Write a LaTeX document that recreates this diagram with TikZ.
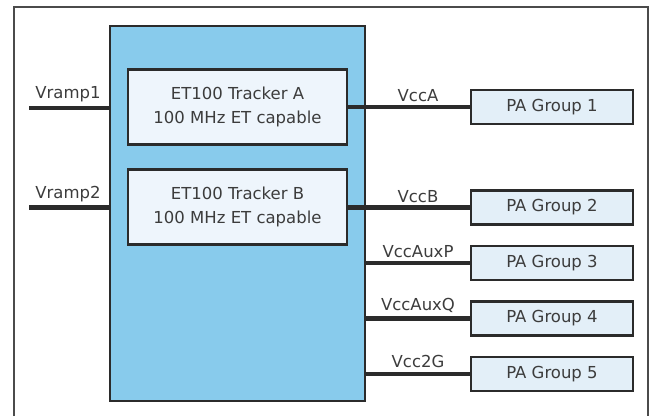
\documentclass[tikz,border=0pt]{standalone}
\usepackage{fontspec}
\setmainfont{DejaVu Sans}
\definecolor{chipblue}{HTML}{88CBEC}
\definecolor{trfill}{HTML}{EEF5FC}
\definecolor{pafill}{HTML}{E3EFF8}
\definecolor{ink}{HTML}{2B2B2B}
\definecolor{txt}{HTML}{3C3C3C}
\begin{document}
\begin{tikzpicture}[x=1pt,y=-1pt,
  every node/.style={font=\fontsize{16.5}{24}\selectfont, text=txt},
  chipbox/.style={draw=ink, line width=2.5pt, fill=chipblue, minimum width=255pt, minimum height=375pt, inner sep=0pt},
  trbox/.style={draw=ink, line width=2.5pt, fill=trfill, minimum width=219pt, minimum height=75pt, align=center, inner sep=0pt},
  pabox/.style={draw=ink, line width=2.5pt, fill=pafill, minimum width=162pt, minimum height=34pt, inner sep=0pt},
  wire/.style={draw=ink, line width=4.5pt},
  lbl/.style={anchor=south, inner sep=1.5pt}
]
\useasboundingbox (0,0) rectangle (650,416);
% outer frame (open at bottom)
\draw[ink!85, line width=2pt] (14,416) -- (14,7) -- (648,7) -- (648,416);

\node[chipbox] (chip) at (237.5,213.5) {};
\node[trbox] (trA) at (237.5,107) {ET100 Tracker A\\100 MHz ET capable};
\node[trbox] (trB) at (237.5,207) {ET100 Tracker B\\100 MHz ET capable};

\node[pabox] (pa1) at (552,107) {PA Group 1};
\node[pabox] (pa2) at (552,207.5) {PA Group 2};
\node[pabox] (pa3) at (552,263) {PA Group 3};
\node[pabox] (pa4) at (552,318.5) {PA Group 4};
\node[pabox] (pa5) at (552,374) {PA Group 5};

\coordinate (v1) at (29,108);
\coordinate (v2) at (29,207.5);

\draw[wire] (v1) -- (v1 -| chip.west);
\draw[wire] (v2) -- (v2 -| chip.west);
\draw[wire] (trA.east |- pa1.west) -- (pa1.west);
\draw[wire] (trB.east |- pa2.west) -- (pa2.west);
\draw[wire] (chip.east |- pa3.west) -- (pa3.west);
\draw[wire] (chip.east |- pa4.west) -- (pa4.west);
\draw[wire] (chip.east |- pa5.west) -- (pa5.west);

\node[lbl] (l1) at (68,104) {Vramp1};
\node[lbl] (l2) at (68,204) {Vramp2};
\node[lbl] (l3) at (418,103) {VccA};
\node[lbl] (l4) at (418,204) {VccB};
\node[lbl] (l5) at (418,259) {VccAuxP};
\node[lbl] (l6) at (418,314) {VccAuxQ};
\node[lbl] (l7) at (418,369) {Vcc2G};
\end{tikzpicture}
\end{document}
